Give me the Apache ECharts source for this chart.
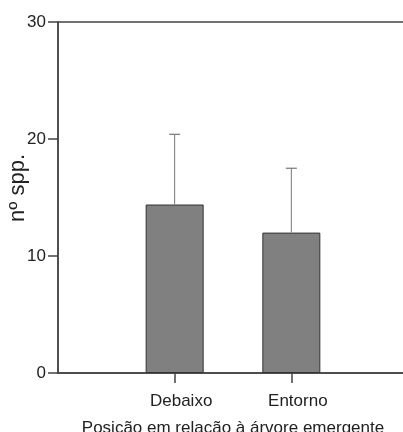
<!DOCTYPE html>
<html>
<head>
<meta charset="utf-8">
<script src="https://cdn.jsdelivr.net/npm/echarts@6/dist/echarts.min.js"></script>
<style>
  html, body { margin: 0; padding: 0; background: #fff; }
  #chart { width: 403px; height: 432px; }
</style>
</head>
<body>
<div id="chart"></div>
<script>
// padded with empty slots so the two bars sit where they do in the figure
const categories = ['', 'Debaixo', 'Entorno', '']
const means = [null, 14.4, 12.0, null]
const upper = [null, 20.4, 17.5, null]
const yTicks = [0, 10, 20, 30]

const chart = echarts.init(document.getElementById('chart'))

chart.setOption({
  animation: false,
  textStyle: { fontFamily: 'Liberation Sans, Arial, sans-serif' },
  grid: {
    left: 58,
    right: -5,
    top: 22,
    bottom: 59,
    outerBoundsMode: 'none',
    containLabel: false,
    show: true,
    borderColor: '#444',
    borderWidth: 1.5
  },
  graphic: [{
    type: 'text',
    left: 7,
    top: 154,
    rotation: Math.PI / 2,
    style: {
      text: 'nº spp.',
      font: '22px Liberation Sans, Arial, sans-serif',
      fill: '#222'
    }
  }],
  xAxis: {
    type: 'category',
    data: categories,
    boundaryGap: false,
    name: 'Posição em relação à árvore emergente',
    nameLocation: 'middle',
    nameGap: 47,
    nameTextStyle: { fontSize: 17, color: '#222' },
    axisLine: { lineStyle: { color: '#444', width: 1.5 } },
    axisTick: {
      length: 10,
      interval: (i) => i === 1 || i === 2,
      lineStyle: { color: '#444', width: 1.5 }
    },
    axisLabel: { fontSize: 17, color: '#222', margin: 20, interval: 0, padding: [0, 0, 0, 13] },
    splitLine: { show: false }
  },
  yAxis: {
    type: 'value',
    min: yTicks[0],
    max: yTicks[yTicks.length - 1],
    interval: 10,
    axisLine: { show: true, lineStyle: { color: '#444', width: 1.5 } },
    axisTick: { show: true, length: 10, lineStyle: { color: '#444', width: 1.5 } },
    axisLabel: { fontSize: 17, color: '#222', margin: 12 },
    splitLine: { show: false }
  },
  series: [
    {
      type: 'bar',
      data: means,
      barWidth: 58,
      itemStyle: { color: '#808080', borderColor: '#333', borderWidth: 1 }
    },
    {
      type: 'custom',
      data: categories.map((c, i) => [i, means[i], upper[i]]).filter(d => d[1] != null),
      renderItem(params, api) {
        const lo = api.coord([api.value(0), api.value(1)])
        const hi = api.coord([api.value(0), api.value(2)])
        const cap = 5.5
        return {
          type: 'group',
          children: [
            { type: 'line', shape: { x1: lo[0], y1: lo[1], x2: hi[0], y2: hi[1] },
              style: { stroke: '#777', lineWidth: 1 } },
            { type: 'line', shape: { x1: hi[0] - cap, y1: hi[1], x2: hi[0] + cap, y2: hi[1] },
              style: { stroke: '#777', lineWidth: 1.2 } }
          ]
        }
      },
      z: 3
    }
  ]
})
</script>
</body>
</html>
